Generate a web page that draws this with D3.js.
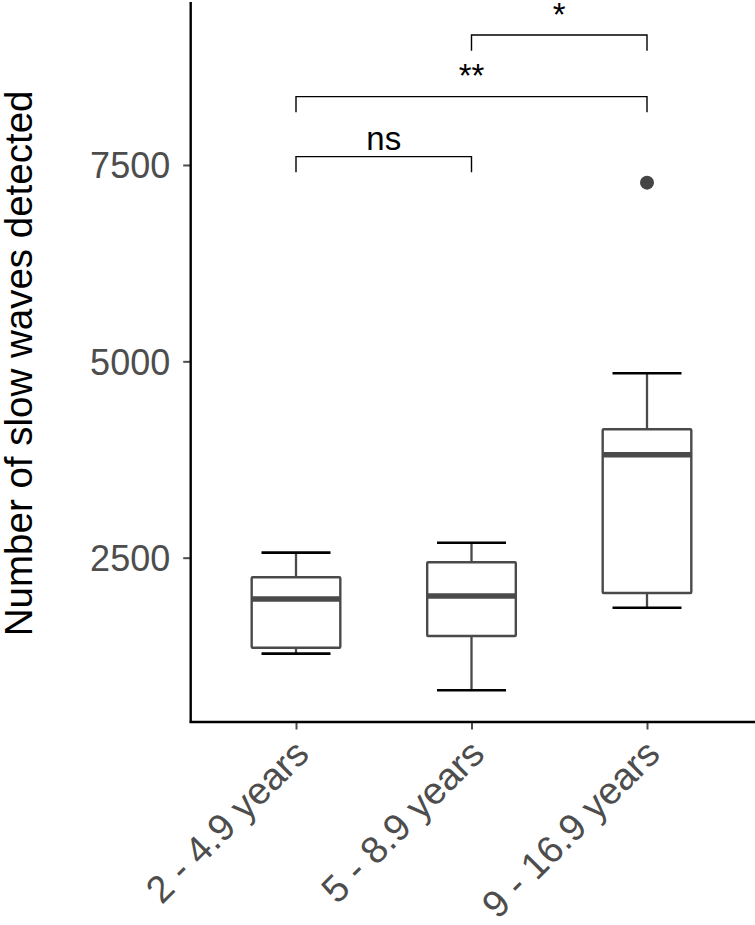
<!DOCTYPE html>
<html>
<head>
<meta charset="utf-8">
<script src="https://cdn.jsdelivr.net/npm/d3@7"></script>
<style>
  html, body { margin: 0; padding: 0; background: #ffffff; }
  svg { display: block; }
  text { font-family: "Liberation Sans", Arial, Helvetica, sans-serif; }
</style>
</head>
<body>
<svg id="chart" width="755" height="925"></svg>
<script>
// ---- data ----
const categories = ["2 - 4.9 years", "5 - 8.9 years", "9 - 16.9 years"];
const whiskerLow  = [1278, 812, 1863];
const q1          = [1354, 1503, 2051];
const medians     = [1974, 2012, 3811];
const q3          = [2250, 2441, 4135];
const whiskerHigh = [2564, 2691, 4848];
const outliers    = [{cat: "9 - 16.9 years", value: 7275}];
const yTicks      = [2500, 5000, 7500];
const yTitle      = "Number of slow waves detected";
// significance brackets
const bracketFrom  = ["5 - 8.9 years", "2 - 4.9 years", "2 - 4.9 years"];
const bracketTo    = ["9 - 16.9 years", "9 - 16.9 years", "5 - 8.9 years"];
const bracketLevel = [9155, 8370, 7606];
const bracketLabel = ["*", "**", "ns"];

// ---- layout ----
const svg = d3.select("#chart");
const plotLeft = 190.7, plotRight = 752.3, plotTop = 2, plotBottom = 722;

const x = d3.scalePoint().domain(categories)
  .range([plotLeft, plotRight]).padding(0.6);
const step = x.step();
const y = d3.scaleLinear().domain([408, 9575]).range([plotBottom, plotTop]);

const boxW = step * 0.505;
const capW = step * 0.393;
const boxColor = "#4a4a4a";

// axes
const yAxis = d3.axisLeft(y).tickValues(yTicks).tickSize(7.5).tickPadding(13).tickFormat(d3.format("d"));
const gy = svg.append("g").attr("transform", `translate(${plotLeft},0)`).call(yAxis);
gy.select(".domain").remove();
gy.selectAll(".tick line").attr("stroke", "#4d4d4d").attr("stroke-width", 2);
gy.selectAll(".tick text").attr("fill", "#4d4d4d").style("font-size", "36px")
  .attr("dy", "0.36em");

const xAxis = d3.axisBottom(x).tickSize(7.5).tickFormat("");
const gx = svg.append("g").attr("transform", `translate(0,${plotBottom})`).call(xAxis);
gx.select(".domain").remove();
gx.selectAll(".tick line").attr("stroke", "#4d4d4d").attr("stroke-width", 2);

// rotated x labels
svg.append("g").selectAll("text").data(categories).join("text")
  .attr("transform", d => `translate(${x(d) + 15},${plotBottom + 34}) rotate(-45)`)
  .attr("text-anchor", "end")
  .attr("fill", "#4d4d4d")
  .style("font-size", "38px")
  .text(d => d);

// axis lines
svg.append("line").attr("x1", plotLeft).attr("x2", plotLeft)
  .attr("y1", plotTop).attr("y2", plotBottom + 1)
  .attr("stroke", "#000").attr("stroke-width", 2.4);
svg.append("line").attr("x1", plotLeft - 1).attr("x2", 755)
  .attr("y1", plotBottom).attr("y2", plotBottom)
  .attr("stroke", "#000").attr("stroke-width", 2.4);

// y title
svg.append("text")
  .attr("transform", `translate(31.5,${(91.7 + 635) / 2}) rotate(-90)`)
  .attr("text-anchor", "middle")
  .attr("fill", "#000")
  .style("font-size", "38.5px")
  .text(yTitle);

// boxes
const boxes = categories.map((c, i) => ({c, lo: whiskerLow[i], q1: q1[i], med: medians[i], q3: q3[i], hi: whiskerHigh[i]}));
const gb = svg.append("g");
gb.selectAll(".stemU").data(boxes).join("line")
  .attr("x1", d => x(d.c)).attr("x2", d => x(d.c))
  .attr("y1", d => y(d.q3)).attr("y2", d => y(d.hi))
  .attr("stroke", boxColor).attr("stroke-width", 2.3);
gb.selectAll(".stemL").data(boxes).join("line")
  .attr("x1", d => x(d.c)).attr("x2", d => x(d.c))
  .attr("y1", d => y(d.q1)).attr("y2", d => y(d.lo))
  .attr("stroke", boxColor).attr("stroke-width", 2.3);
gb.selectAll(".capU").data(boxes).join("line")
  .attr("x1", d => x(d.c) - capW / 2).attr("x2", d => x(d.c) + capW / 2)
  .attr("y1", d => y(d.hi)).attr("y2", d => y(d.hi))
  .attr("stroke", "#000").attr("stroke-width", 2.6);
gb.selectAll(".capL").data(boxes).join("line")
  .attr("x1", d => x(d.c) - capW / 2).attr("x2", d => x(d.c) + capW / 2)
  .attr("y1", d => y(d.lo)).attr("y2", d => y(d.lo))
  .attr("stroke", "#000").attr("stroke-width", 2.6);
gb.selectAll(".box").data(boxes).join("rect")
  .attr("x", d => x(d.c) - boxW / 2).attr("width", boxW)
  .attr("y", d => y(d.q3)).attr("height", d => y(d.q1) - y(d.q3))
  .attr("fill", "#fff").attr("stroke", boxColor).attr("stroke-width", 2.4)
  .attr("rx", 1);
gb.selectAll(".med").data(boxes).join("line")
  .attr("x1", d => x(d.c) - boxW / 2).attr("x2", d => x(d.c) + boxW / 2)
  .attr("y1", d => y(d.med)).attr("y2", d => y(d.med))
  .attr("stroke", boxColor).attr("stroke-width", 5.5);

// outliers
svg.append("g").selectAll("circle").data(outliers).join("circle")
  .attr("cx", d => x(d.cat)).attr("cy", d => y(d.value)).attr("r", 7)
  .attr("fill", "#454545");

// brackets
const brackets = bracketLabel.map((l, i) => ({from: bracketFrom[i], to: bracketTo[i], level: bracketLevel[i], label: l}));
const tickDrop = 200;
const gbr = svg.append("g");
gbr.selectAll("path").data(brackets).join("path")
  .attr("d", d => `M${x(d.from)},${y(d.level - tickDrop)}V${y(d.level)}H${x(d.to)}V${y(d.level - tickDrop)}`)
  .attr("fill", "none").attr("stroke", "#000").attr("stroke-width", 1.4);
gbr.selectAll("text").data(brackets).join("text")
  .attr("x", d => (x(d.from) + x(d.to)) / 2)
  .attr("y", d => y(d.level) - (d.label === "ns" ? 6.5 : 9.5))
  .attr("text-anchor", "middle")
  .attr("fill", "#000")
  .style("font-size", "33px")
  .text(d => d.label);
</script>
</body>
</html>
